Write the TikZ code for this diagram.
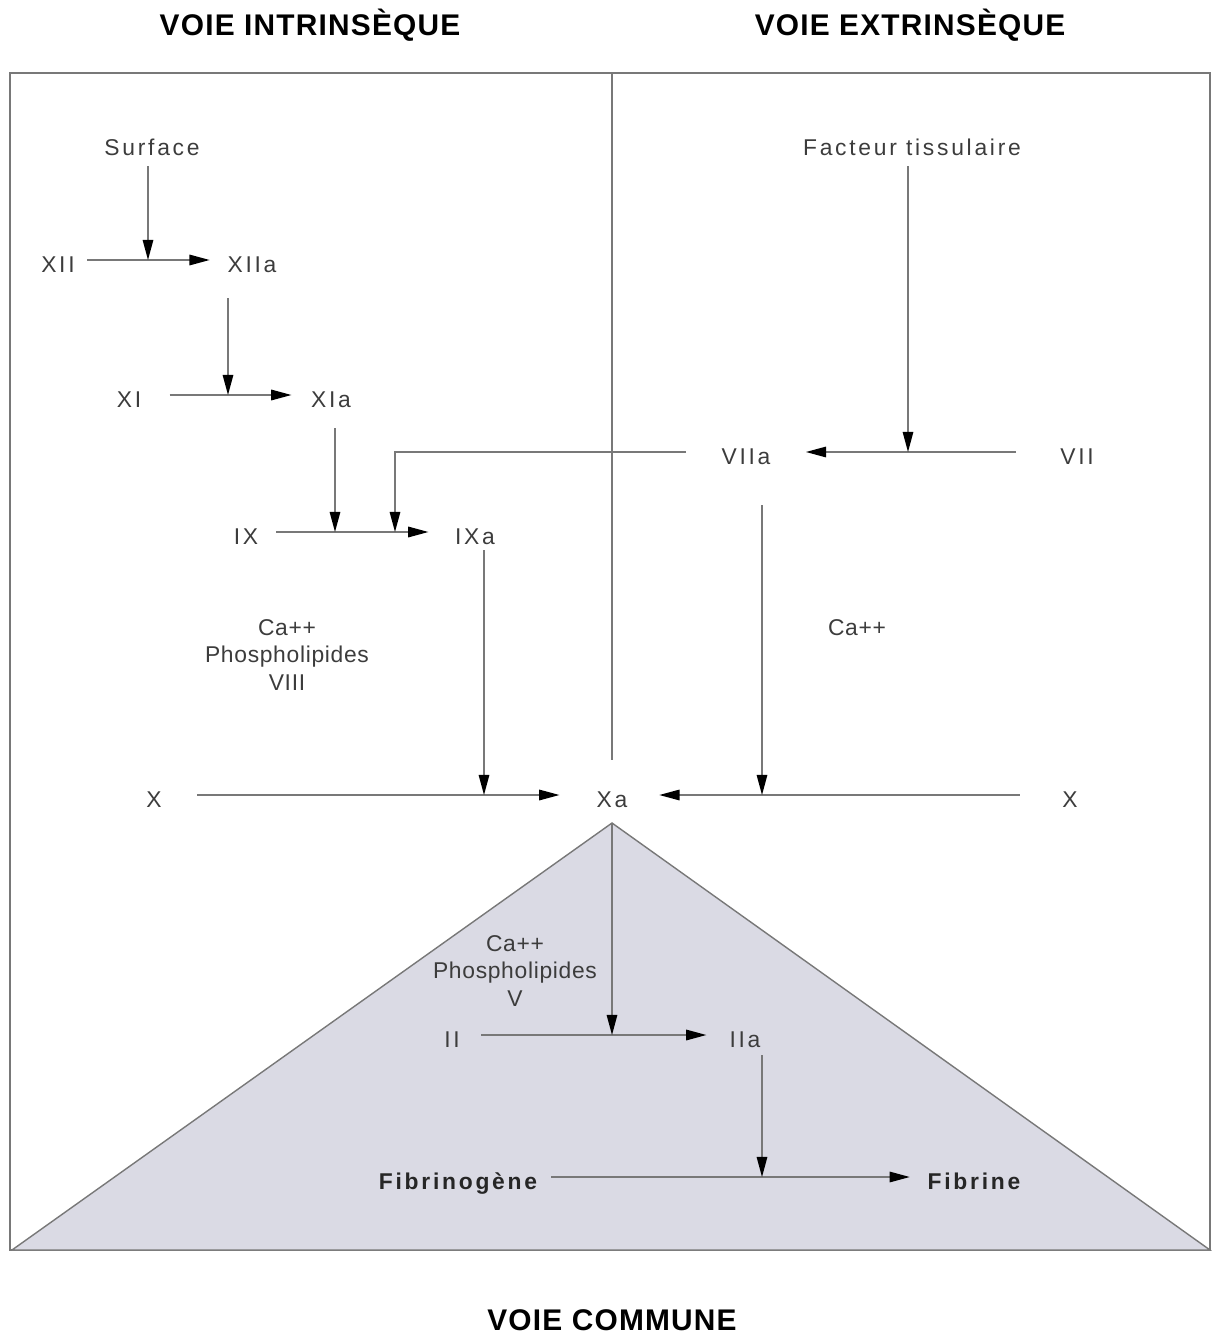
\documentclass[tikz,border=0pt]{standalone}
\usepackage{fontspec}
\setmainfont{Liberation Sans}
\newfontfamily\labfont{Liberation Sans}[LetterSpace=12]
\newfontfamily\cofont{Liberation Sans}[LetterSpace=3]
\newfontfamily\titfont{Liberation Sans}[LetterSpace=4]
\usetikzlibrary{arrows.meta}
\definecolor{trait}{RGB}{120,120,120}
\definecolor{ecrit}{RGB}{60,60,60}
\definecolor{commun}{RGB}{218,218,228}

\begin{document}
\begin{tikzpicture}[x=0.02cm, y=-0.02cm,
		fac/.style={font=\labfont\fontsize{13}{15}\selectfont, text=ecrit, inner sep=0pt, text height=14pt, text depth=0pt},
		facgras/.style={fac, font=\labfont\bfseries\fontsize{13}{15}\selectfont, text=black!85},
		cofac/.style={font=\cofont\fontsize{13}{15.5}\selectfont, text=ecrit, align=center, inner sep=0pt},
		titre/.style={font=\titfont\bfseries\fontsize{17}{20}\selectfont},
		trait/.style={draw=trait, line width=0.8pt},
		arr/.style={trait, -{Triangle[length=11.5pt, width=6pt, color=black]}}]
			\useasboundingbox (0, 0) rectangle (1212, 1335);

			\node[titre] (tint) at (310, 25) {VOIE INTRINSÈQUE};
			\node[titre] (text) at (910, 25) {VOIE EXTRINSÈQUE};
			\node[titre] (tcom) at (612, 1320) {VOIE COMMUNE};

			\draw[trait] (10, 73) rectangle (1210, 1250);
			\filldraw[trait, fill=commun] (612, 823)--(12, 1250)--(1210, 1250)--cycle;
			\draw[trait] (612, 73)--(612, 760);

			\node[fac] (surface) at (152, 143) {Surface};
			\node[fac] (xii) at (58, 260) {XII};
			\node[fac] (xiia) at (252, 260) {XIIa};
			\node[fac] (xi) at (129, 395) {XI};
			\node[fac] (xia) at (331, 395) {XIa};
			\node[fac] (ix) at (246, 532) {IX};
			\node[fac] (ixa) at (475, 532) {IXa};
			\node[fac] (facteur) at (912, 143) {Facteur tissulaire};
			\node[fac] (viia) at (746, 452) {VIIa};
			\node[fac] (vii) at (1077, 452) {VII};
			\node[fac] (xg) at (154, 795) {X};
			\node[fac] (xa) at (612, 795) {Xa};
			\node[fac] (xd) at (1070, 795) {X};
			\node[fac] (ii) at (452, 1035) {II};
			\node[fac] (iia) at (745, 1035) {IIa};
			\node[facgras] (fibrinogene) at (458, 1177) {Fibrinogène};
			\node[facgras] (fibrine) at (974, 1177) {Fibrine};

			\node[cofac] (cofint) at (287, 655) {Ca++\\Phospholipides\\VIII};
			\node[cofac] (cofext) at (857, 628) {Ca++};
			\node[cofac] (cofcom) at (515, 971) {Ca++\\Phospholipides\\V};

			\coordinate (s1) at (148, 260);
			\coordinate (t2) at (228, 298);
			\coordinate (s2) at (228, 395);
			\coordinate (t3) at (335, 428);
			\coordinate (s3) at (335, 532);
			\coordinate (s4) at (908, 452);
			\coordinate (s5) at (395, 532);
			\coordinate (t6) at (484, 550);
			\coordinate (s6) at (484, 795);
			\coordinate (t7) at (762, 505);
			\coordinate (s7) at (762, 795);
			\coordinate (t8) at (612, 823);
			\coordinate (s8) at (612, 1035);
			\coordinate (t9) at (762, 1055);
			\coordinate (s9) at (762, 1177);

			\draw[arr, shorten <=7pt, shorten >=10pt] (xii)--(xiia);
			\draw[arr, shorten <=16pt, shorten >=11pt] (xi)--(xia);
			\draw[arr, shorten <=10pt, shorten >=15pt] (ix)--(ixa);
			\draw[arr, shorten <=25pt, shorten >=20pt] (vii)--(viia);
			\draw[arr, shorten <=20pt, shorten >=21pt] (xg)--(xa);
			\draw[arr, shorten <=24pt, shorten >=18pt] (xd)--(xa);
			\draw[arr, shorten <=12pt, shorten >=13pt] (ii)--(iia);
			\draw[arr, shorten <=8pt, shorten >=10pt] (fibrinogene)--(fibrine);

			\draw[arr, shorten <=6pt] (surface.south -| s1)--(s1);
			\draw[arr] (t2)--(s2);
			\draw[arr] (t3)--(s3);
			\draw[arr, shorten <=6pt] (facteur.south -| s4)--(s4);
			\draw[arr, shorten <=20pt] (viia.west) -| (s5);
			\draw[arr] (t6)--(s6);
			\draw[arr] (t7)--(s7);
			\draw[arr] (t8)--(s8);
			\draw[arr] (t9)--(s9);
		\end{tikzpicture}
\end{document}
